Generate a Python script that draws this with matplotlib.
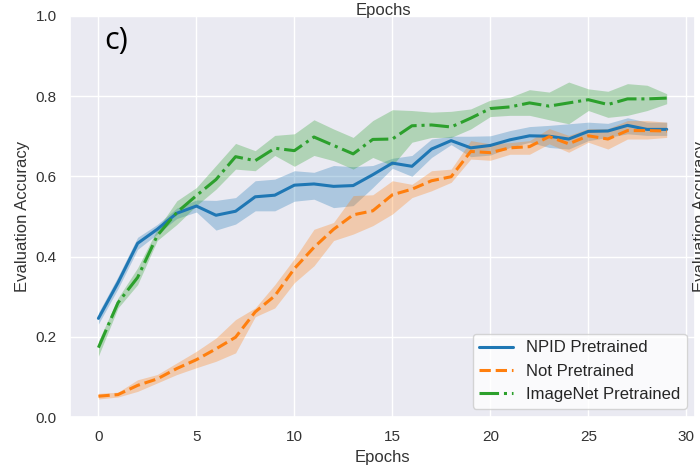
import matplotlib
matplotlib.use("Agg")
import matplotlib.pyplot as plt
import seaborn as sns
import numpy as np

sns.set_theme(style="darkgrid")
plt.rcParams['font.family'] = ['Liberation Sans', 'DejaVu Sans']

epochs = list(range(30))

npid_mean = [0.246, 0.335, 0.433, 0.468, 0.508, 0.526, 0.503, 0.513, 0.549, 0.553,
             0.578, 0.581, 0.575, 0.577, 0.604, 0.633, 0.625, 0.668, 0.689, 0.671,
             0.677, 0.691, 0.701, 0.700, 0.693, 0.712, 0.713, 0.727, 0.717, 0.717]
npid_low = [0.232, 0.320, 0.418, 0.456, 0.495, 0.511, 0.466, 0.481, 0.514, 0.514,
            0.538, 0.543, 0.522, 0.527, 0.572, 0.620, 0.600, 0.647, 0.679, 0.649,
            0.653, 0.672, 0.685, 0.672, 0.668, 0.689, 0.697, 0.706, 0.702, 0.702]
npid_high = [0.260, 0.350, 0.448, 0.480, 0.521, 0.541, 0.540, 0.547, 0.589, 0.593,
             0.614, 0.610, 0.627, 0.624, 0.627, 0.645, 0.652, 0.693, 0.700, 0.700,
             0.701, 0.714, 0.724, 0.727, 0.731, 0.735, 0.732, 0.746, 0.735, 0.735]

notpre_mean = [0.052, 0.056, 0.079, 0.095, 0.121, 0.143, 0.170, 0.199, 0.262, 0.302,
               0.370, 0.423, 0.468, 0.504, 0.514, 0.554, 0.568, 0.589, 0.599, 0.662,
               0.659, 0.671, 0.674, 0.699, 0.681, 0.701, 0.693, 0.714, 0.714, 0.713]
notpre_low = [0.045, 0.050, 0.064, 0.085, 0.106, 0.123, 0.139, 0.160, 0.250, 0.272,
              0.335, 0.377, 0.440, 0.456, 0.477, 0.506, 0.547, 0.564, 0.585, 0.643,
              0.640, 0.655, 0.655, 0.681, 0.660, 0.685, 0.668, 0.693, 0.693, 0.697]
notpre_high = [0.059, 0.062, 0.093, 0.106, 0.135, 0.164, 0.197, 0.243, 0.272, 0.330,
               0.395, 0.468, 0.485, 0.552, 0.554, 0.589, 0.580, 0.614, 0.618, 0.689,
               0.681, 0.684, 0.689, 0.719, 0.702, 0.719, 0.719, 0.739, 0.739, 0.735]

imnet_mean = [0.173, 0.285, 0.348, 0.452, 0.510, 0.552, 0.592, 0.649, 0.639, 0.670,
              0.664, 0.698, 0.677, 0.656, 0.692, 0.693, 0.726, 0.728, 0.723, 0.745,
              0.769, 0.773, 0.783, 0.775, 0.783, 0.791, 0.779, 0.793, 0.793, 0.795]
imnet_low = [0.152, 0.272, 0.330, 0.440, 0.480, 0.527, 0.568, 0.618, 0.614, 0.652,
             0.625, 0.652, 0.639, 0.618, 0.647, 0.627, 0.685, 0.697, 0.697, 0.718,
             0.749, 0.752, 0.752, 0.741, 0.731, 0.764, 0.747, 0.752, 0.764, 0.781]
imnet_high = [0.189, 0.297, 0.372, 0.468, 0.539, 0.572, 0.627, 0.682, 0.664, 0.702,
              0.706, 0.741, 0.718, 0.697, 0.739, 0.766, 0.764, 0.760, 0.762, 0.768,
              0.790, 0.797, 0.816, 0.810, 0.835, 0.818, 0.812, 0.831, 0.827, 0.806]

series = [
    ("NPID Pretrained", npid_mean, npid_low, npid_high, "#1f77b4", "-"),
    ("Not Pretrained", notpre_mean, notpre_low, notpre_high, "#ff7f0e", "--"),
    ("ImageNet Pretrained", imnet_mean, imnet_low, imnet_high, "#2ca02c", "-."),
]

fig = plt.figure(figsize=(7, 4.66), dpi=100)
ax = fig.add_axes([0.1, 0.105, 0.893, 0.861])

for name, m, lo, hi, c, ls in series:
    ax.fill_between(epochs, lo, hi, color=c, alpha=0.3, linewidth=0)
    ax.plot(epochs, m, color=c, linestyle=ls, linewidth=2.2, label=name)

ax.set_xlim(-1.45, 30.45)
ax.set_ylim(0, 1.0)
ax.set_xticks([0, 5, 10, 15, 20, 25, 30])
ax.set_yticks([0.0, 0.2, 0.4, 0.6, 0.8, 1.0])
ax.tick_params(labelsize=11, colors="#333333")
ax.set_xlabel("Epochs", fontsize=12, color="#333333")
ax.set_ylabel("Evaluation Accuracy", fontsize=12, color="#333333")

leg = ax.legend(loc="lower right", fontsize=12, facecolor="white", framealpha=0.8)

ax.text(0.055, 0.975, "c)", transform=ax.transAxes, fontsize=22,
        family=["Open Sans", "DejaVu Sans"], va="top", ha="left", color="black")

fig.text(383 / 700, 1 - 10 / 466, "Epochs", fontsize=12, color="#333333",
         ha="center", va="center")
fig.text(693 / 700, 1 - 216 / 466, "Evaluation Accuracy", fontsize=12,
         color="#333333", rotation=90, ha="left", va="center")

fig.savefig("out.png", dpi=100)
